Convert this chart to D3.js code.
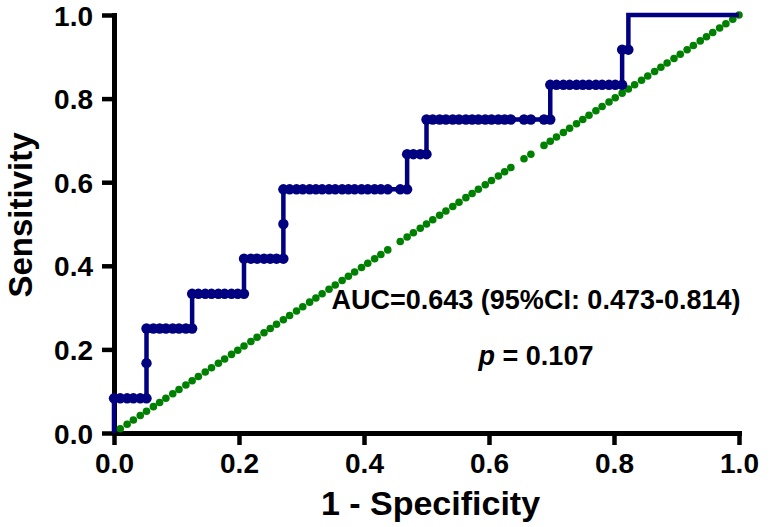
<!DOCTYPE html>
<html>
<head>
<meta charset="utf-8">
<script src="https://cdn.jsdelivr.net/npm/d3@7"></script>
<style>
  body { margin: 0; background: #fff; }
  svg { font-family: "Liberation Sans", Arial, sans-serif; font-weight: bold; }
</style>
</head>
<body>
<svg class="roc-chart"></svg>
<script>
// ROC points (1 - specificity, sensitivity), in plotting order
const rocX = [
  0.000, 0.010, 0.021, 0.031, 0.042, 0.052,
  0.052,
  0.052, 0.063, 0.073, 0.083, 0.094, 0.104, 0.115, 0.125,
  0.125, 0.135, 0.146, 0.156, 0.167, 0.177, 0.188, 0.198, 0.208,
  0.208, 0.219, 0.229, 0.240, 0.250, 0.260, 0.271,
  0.271,
  0.271, 0.281, 0.292, 0.302, 0.313, 0.323, 0.333, 0.344, 0.354, 0.365, 0.375, 0.385, 0.396, 0.406, 0.417, 0.427, 0.438, 0.458, 0.469,
  0.469, 0.479, 0.490, 0.500,
  0.500, 0.510, 0.521, 0.531, 0.542, 0.552, 0.563, 0.573, 0.583, 0.594, 0.604, 0.615, 0.625, 0.635, 0.656, 0.667, 0.688, 0.698,
  0.698, 0.708, 0.719, 0.729, 0.740, 0.750, 0.760, 0.771, 0.781, 0.792, 0.802, 0.813,
  0.813, 0.823
];
const rocY = [
  0.083, 0.083, 0.083, 0.083, 0.083, 0.083,
  0.167,
  0.250, 0.250, 0.250, 0.250, 0.250, 0.250, 0.250, 0.250,
  0.333, 0.333, 0.333, 0.333, 0.333, 0.333, 0.333, 0.333, 0.333,
  0.417, 0.417, 0.417, 0.417, 0.417, 0.417, 0.417,
  0.500,
  0.583, 0.583, 0.583, 0.583, 0.583, 0.583, 0.583, 0.583, 0.583, 0.583, 0.583, 0.583, 0.583, 0.583, 0.583, 0.583, 0.583, 0.583, 0.583,
  0.667, 0.667, 0.667, 0.667,
  0.750, 0.750, 0.750, 0.750, 0.750, 0.750, 0.750, 0.750, 0.750, 0.750, 0.750, 0.750, 0.750, 0.750, 0.750, 0.750, 0.750, 0.750,
  0.833, 0.833, 0.833, 0.833, 0.833, 0.833, 0.833, 0.833, 0.833, 0.833, 0.833, 0.833,
  0.917, 0.917
];
// line ends (no markers drawn there)
const lineStartX = [0.000], lineStartY = [0.000];
const lineEndX = [0.823, 1.000], lineEndY = [1.000, 1.000];

// reference diagonal markers (x = y)
const diagX = [
  0.010, 0.021, 0.031, 0.042, 0.052, 0.063, 0.073, 0.083, 0.094, 0.104,
  0.115, 0.125, 0.135, 0.146, 0.156, 0.167, 0.177, 0.188, 0.198, 0.208,
  0.219, 0.229, 0.240, 0.250, 0.260, 0.271, 0.281, 0.292, 0.302, 0.313,
  0.323, 0.333, 0.344, 0.354, 0.365, 0.375, 0.385, 0.396, 0.406, 0.417,
  0.427, 0.438, 0.458, 0.469, 0.479, 0.490, 0.500, 0.510, 0.521, 0.531,
  0.542, 0.552, 0.563, 0.573, 0.583, 0.594, 0.604, 0.615, 0.625, 0.635,
  0.656, 0.667, 0.688, 0.698, 0.708, 0.719, 0.729, 0.740, 0.750, 0.760,
  0.771, 0.781, 0.792, 0.802, 0.813, 0.823, 0.833, 0.844, 0.854, 0.865,
  0.875, 0.885, 0.896, 0.906, 0.917, 0.927, 0.938, 0.948, 0.958, 0.969,
  0.979, 0.990, 1.000
];

const tickValues = [0.0, 0.2, 0.4, 0.6, 0.8, 1.0];
const aucLabel = "AUC=0.643 (95%CI: 0.473-0.814)";
const pLabel = "= 0.107";

const svgWidth = 772, svgHeight = 527;
const margin = { top: 15, right: 33, bottom: 94, left: 114 };
const width = svgWidth - margin.left - margin.right;
const height = svgHeight - margin.top - margin.bottom;

const svg = d3.select('svg.roc-chart')
  .attr('width', svgWidth)
  .attr('height', svgHeight);

const g = svg.append('g')
  .attr('transform', `translate(${margin.left}, ${margin.top})`);

const x = d3.scaleLinear().domain([0, 1]).range([0, width]);
const y = d3.scaleLinear().domain([0, 1]).range([height, 0]);

function styleAxis(sel) {
  sel.select('.domain')
    .attr('stroke', '#000')
    .attr('stroke-width', 5)
    .attr('stroke-linecap', 'square');
  sel.selectAll('.tick line')
    .attr('stroke', '#000')
    .attr('stroke-width', 4.5);
  sel.selectAll('.tick text')
    .attr('fill', '#000')
    .style('font-size', '28px')
    .style('font-weight', 'bold')
    .style('font-family', '"Liberation Sans", Arial, sans-serif');
}

g.append('g')
  .attr('transform', `translate(0, ${height})`)
  .call(d3.axisBottom(x).tickValues(tickValues).tickFormat(d3.format('.1f'))
    .tickSize(12).tickSizeOuter(0).tickPadding(8))
  .call(styleAxis);

g.append('g')
  .call(d3.axisLeft(y).tickValues(tickValues).tickFormat(d3.format('.1f'))
    .tickSize(12).tickSizeOuter(0).tickPadding(9))
  .call(styleAxis)
  .selectAll('.tick text').attr('dy', '0.36em');

// axis titles
svg.append('text')
  .attr('x', margin.left + width / 2 + 4)
  .attr('y', 515)
  .attr('text-anchor', 'middle')
  .style('font-size', '34px')
  .text('1 - Specificity');

svg.append('text')
  .attr('transform', `translate(32, ${margin.top + height / 2 - 9}) rotate(-90)`)
  .attr('text-anchor', 'middle')
  .style('font-size', '33px')
  .text('Sensitivity');

// diagonal
g.selectAll('circle.diag')
  .data(diagX)
  .enter().append('circle')
  .attr('class', 'diag')
  .attr('cx', d => x(d))
  .attr('cy', d => y(d))
  .attr('r', 3.8)
  .attr('fill', '#008000');

// ROC step line
const linePts = []
  .concat(lineStartX.map((d, i) => [d, lineStartY[i]]))
  .concat(rocX.map((d, i) => [d, rocY[i]]))
  .concat(lineEndX.map((d, i) => [d, lineEndY[i]]));

const line = d3.line()
  .x(d => x(d[0]))
  .y(d => y(d[1]));

g.append('path')
  .datum(linePts)
  .attr('fill', 'none')
  .attr('stroke', '#000080')
  .attr('stroke-width', 4.5)
  .attr('stroke-linejoin', 'miter')
  .attr('d', line);

g.selectAll('circle.roc')
  .data(rocX.map((d, i) => [d, rocY[i]]))
  .enter().append('circle')
  .attr('class', 'roc')
  .attr('cx', d => x(d[0]))
  .attr('cy', d => y(d[1]))
  .attr('r', 5.2)
  .attr('fill', '#000080');

// annotation
svg.append('text')
  .attr('x', 536)
  .attr('y', 309)
  .attr('text-anchor', 'middle')
  .style('font-size', '27px')
  .text(aucLabel);

const pText = svg.append('text')
  .attr('x', 536)
  .attr('y', 365)
  .attr('text-anchor', 'middle')
  .style('font-size', '27px');
pText.append('tspan').style('font-style', 'italic').text('p');
pText.append('tspan').text(' ' + pLabel);
</script>
</body>
</html>
